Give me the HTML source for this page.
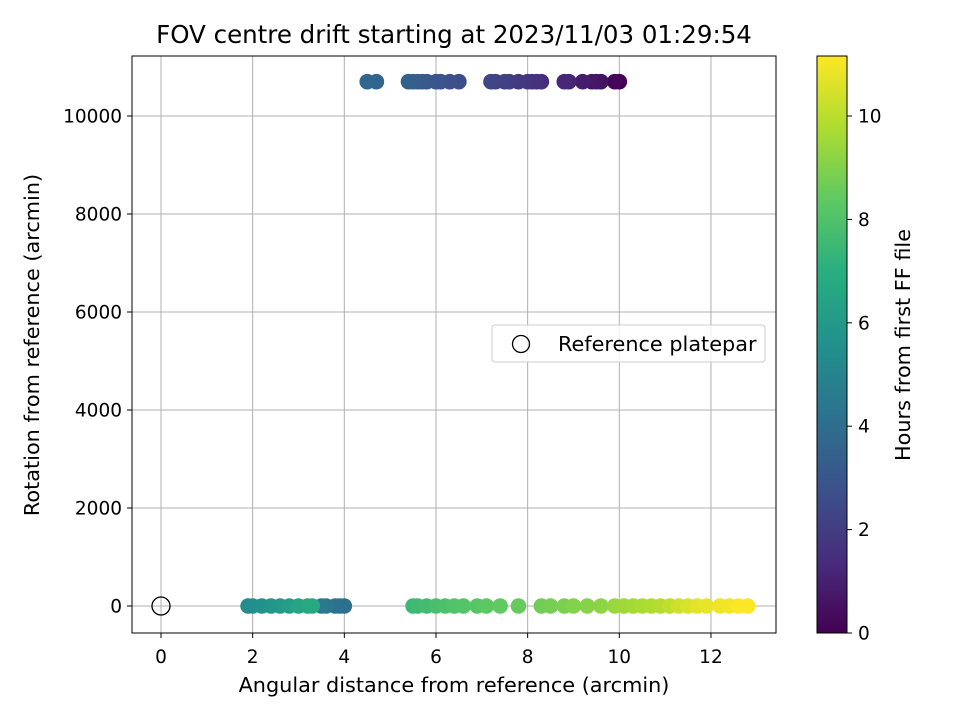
<!DOCTYPE html>
<html><head><meta charset="utf-8"><style>
html,body{margin:0;padding:0;background:#fff;}
svg{display:block;font-family:"DejaVu Sans","Liberation Sans",sans-serif;}
</style></head><body>
<svg id="chart" width="960" height="720" viewBox="0 0 960 720" xmlns="http://www.w3.org/2000/svg">
<defs>
<linearGradient id="vir" x1="0" y1="1" x2="0" y2="0">
<stop offset="0" stop-color="#440154"/><stop offset="0.125" stop-color="#472d7b"/><stop offset="0.25" stop-color="#3b528b"/><stop offset="0.375" stop-color="#2c728e"/><stop offset="0.5" stop-color="#21918c"/><stop offset="0.625" stop-color="#28ae80"/><stop offset="0.75" stop-color="#5ec962"/><stop offset="0.875" stop-color="#addc30"/><stop offset="1" stop-color="#fde725"/>
</linearGradient>
<clipPath id="plotclip"><rect x="132" y="56" width="644" height="577"/></clipPath>
</defs>
<text x="454" y="43" font-size="24.5" text-anchor="middle">FOV centre drift starting at 2023/11/03 01:29:54</text>
<g id="grid"></g>
<g id="points" clip-path="url(#plotclip)"></g>
<rect x="132" y="56" width="644" height="577" fill="none" stroke="#000" stroke-width="1"/>
<g id="axes" font-size="18.5"></g>
<text x="454" y="692" font-size="20.8" text-anchor="middle">Angular distance from reference (arcmin)</text>
<text transform="translate(39,345) rotate(-90)" font-size="20.8" text-anchor="middle">Rotation from reference (arcmin)</text>
<g>
<rect x="492" y="325" width="273" height="37" rx="3" fill="#fff" fill-opacity="0.8" stroke="#ccc"/>
<circle cx="521" cy="344" r="8.5" fill="none" stroke="#000" stroke-width="1.3"/>
<text x="558" y="351" font-size="20.8">Reference platepar</text>
</g>
<rect x="817" y="56" width="30" height="577" fill="url(#vir)"/>
<rect x="817" y="56" width="30" height="577" fill="none" stroke="#000" stroke-width="1"/>
<g id="cbar" font-size="18.5"></g>
<text transform="translate(910,345) rotate(-90)" font-size="20.8" text-anchor="middle">Hours from first FF file</text>
</svg>
<script>
const xTicks=[0,2,4,6,8,10,12];
const yTicks=[0,2000,4000,6000,8000,10000];
const cTicks=[0,2,4,6,8,10];
const topX=[10.0,9.9,9.6,9.5,9.4,9.2,8.9,8.8,8.3,8.2,8.1,8.0,7.8,7.6,7.5,7.3,7.2,6.5,6.3,6.1,6.0,5.8,5.7,5.6,5.5,5.4,4.7,4.5];
const topH=[0.0,0.2,0.5,0.6,0.7,0.9,1.1,1.2,1.4,1.5,1.6,1.7,1.8,2.0,2.1,2.2,2.3,2.6,2.7,2.8,2.9,3.0,3.1,3.2,3.3,3.4,3.6,3.7];
const topRot=10700;
const botX=[4.0,3.9,3.8,3.6,3.5,1.9,2.0,2.2,2.4,2.6,2.8,3.0,3.2,3.3,5.5,5.6,5.8,6.0,6.2,6.4,6.6,6.9,7.1,7.4,7.8,8.3,8.5,8.8,9.0,9.3,9.6,9.9,10.1,10.3,10.5,10.7,10.9,11.1,11.3,11.5,11.7,11.9,12.2,12.4,12.6,12.8];
const botH=[4.0,4.1,4.2,4.4,4.5,5.4,5.5,5.6,5.8,6.0,6.2,6.5,6.7,6.8,7.5,7.6,7.7,7.8,7.9,8.0,8.1,8.2,8.3,8.4,8.5,8.7,8.8,8.9,9.0,9.1,9.2,9.4,9.5,9.6,9.7,9.8,9.9,10.1,10.3,10.5,10.7,10.8,10.9,11.0,11.1,11.2];
const botRot=0;
const NS="http://www.w3.org/2000/svg";
const X=v=>161+v*45.83, Y=v=>606-v*0.049, C=v=>633-v*51.7;
const hMax=11.16;
const vir=[[68,1,84],[71,45,123],[59,82,139],[44,114,142],[33,145,140],[40,174,128],[94,201,98],[173,220,48],[253,231,37]];
function col(h){let t=Math.max(0,Math.min(1,h/hMax))*8,i=Math.min(7,Math.floor(t)),f=t-i;
 const c=vir[i].map((a,k)=>Math.round(a+(vir[i+1][k]-a)*f));return `rgb(${c})`;}
function mk(tag,at,p){const e=document.createElementNS(NS,tag);for(const k in at)e.setAttribute(k,at[k]);p.appendChild(e);return e;}
const g=document.getElementById('grid'),ax=document.getElementById('axes'),pts=document.getElementById('points'),cb=document.getElementById('cbar');
xTicks.forEach(v=>{const l=mk('line',{x1:X(v),x2:X(v),y1:56,y2:633,stroke:'#b0b0b0','stroke-width':1},g);
 
 
 mk('line',{x1:X(v),x2:X(v),y1:633,y2:638,stroke:'#000'},ax);
 const t=mk('text',{x:X(v),y:663,'text-anchor':'middle'},ax);t.textContent=v;
 
 });
yTicks.forEach(v=>{const l=mk('line',{x1:132,x2:776,y1:Y(v),y2:Y(v),stroke:'#b0b0b0','stroke-width':1},g);
 
 
 mk('line',{x1:127,x2:132,y1:Y(v),y2:Y(v),stroke:'#000'},ax);
 const t=mk('text',{x:122,y:Y(v)+6.5,'text-anchor':'end'},ax);t.textContent=v;
 
 });
cTicks.forEach(v=>{mk('line',{x1:847,x2:852,y1:C(v),y2:C(v),stroke:'#000'},cb);
 const t=mk('text',{x:858,y:C(v)+6.5},cb);t.textContent=v;
 
 });
function series(xs,hs,rot,name){xs.forEach((x,i)=>{const c=mk('circle',{cx:X(x),cy:Y(rot),r:7.8,fill:col(hs[i])},pts);
 
 });}
series(topX,topH,topRot,'drift-point-top');
series(botX,botH,botRot,'drift-point-bottom');
const ref=mk('circle',{cx:X(0),cy:Y(0),r:9,fill:'none',stroke:'#000','stroke-width':1.3},pts);


</script>
</body></html>
